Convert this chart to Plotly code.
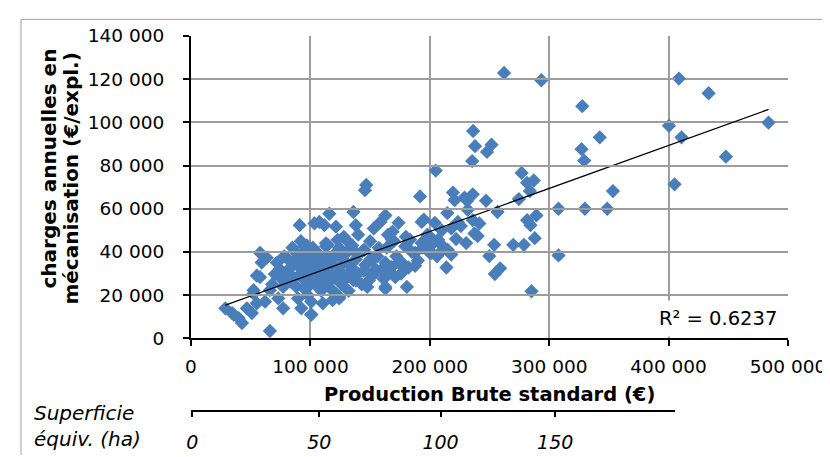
import plotly.graph_objects as go

# ---- data (k€) ----
pbs_k = [
    408.6, 433.5, 327.7, 400.3, 483.7, 342.3, 410.8, 327.1, 329.3, 448.0,
    405.0, 353.4, 307.8, 329.9, 348.6, 307.8,
    262.2, 293.4, 236.3, 237.9, 251.7, 247.9, 235.5, 205.0, 276.9, 281.5,
    287.1, 283.8, 219.4, 220.8, 229.1, 236.0, 231.3, 247.1, 274.6, 231.8,
    256.7, 214.7, 204.2, 289.3, 281.5, 284.3, 223.5, 236.0, 241.5, 237.4,
    218.0, 240.1, 200.0, 207.0, 230.5, 287.9, 253.9, 269.9, 278.8, 201.5,
    209.8, 200.0, 208.4, 218.0, 249.8, 213.9, 258.9, 254.5, 285.2,
    146.8, 145.7, 191.8, 115.8, 107.5, 111.7, 136.0, 138.0, 121.4, 162.8,
    158.7, 173.8, 153.1, 168.8, 193.2, 122.8, 131.1, 114.5, 143.5, 157.3,
    168.4, 179.4, 183.5, 193.2, 197.3, 187.7, 99.3, 104.8, 126.9, 138.0,
    150.4, 162.8, 173.8, 182.1, 102.1, 113.1, 124.1, 133.8, 144.8, 154.5,
    165.5, 171.1, 161.4, 149.0, 138.0, 128.3, 117.2, 107.5, 180.8, 162.8,
    147.6, 109.0, 121.4, 124.1, 110.4, 100.7,
    91.0, 103.4, 57.8, 63.4, 59.2, 95.1, 88.2, 81.4, 74.4, 70.3,
    80.0, 89.6, 97.9, 93.8, 84.1, 77.2, 57.8, 52.4, 66.1, 73.1,
    62.0, 55.1, 89.6, 97.9, 92.4, 77.2, 46.8, 28.8, 34.4, 39.9,
    42.7, 51.0, 66.1, 100.7, 99.3, 100.7,
    99.3, 113.1, 124.1, 138.0, 151.8, 162.8, 176.6, 187.7, 201.5, 196.0,
    35.8, 52.4, 55.1, 118.6, 124.1, 162.8,
    68, 72, 75, 78, 82, 85, 86, 88, 90, 92,
    94, 95, 96, 98, 100, 101, 102, 104, 105, 107,
    108, 110, 112, 114, 115, 117, 118, 120, 122, 124,
    126, 128, 130, 132, 134, 136, 85, 80, 76, 92,
    97, 103, 109, 113, 119, 125, 131, 140, 143, 146,
    152, 156, 160, 164, 168, 172, 176, 185, 190, 194,
    198, 202, 206, 210, 215, 222, 226, 195, 180, 170,
    165, 150, 145, 140, 135, 128,
]
charges_k = [
    120.3, 113.5, 107.5, 98.4, 99.9, 93.1, 93.1, 87.6, 82.3, 84.1,
    71.3, 68.2, 60.0, 60.0, 60.0, 38.4,
    122.9, 119.5, 96.0, 89.0, 89.7, 86.3, 82.1, 77.7, 76.6, 72.0,
    73.1, 68.2, 67.5, 64.0, 65.2, 66.7, 63.7, 63.7, 64.5, 59.5,
    58.5, 58.0, 53.5, 56.9, 54.7, 52.4, 53.9, 54.7, 53.2, 48.6,
    50.9, 47.4, 47.1, 45.6, 44.1, 46.4, 43.3, 43.3, 43.3, 43.3,
    43.3, 39.6, 39.6, 38.8, 38.1, 32.8, 32.4, 29.8, 21.8,
    71.0, 68.6, 65.7, 57.7, 53.9, 52.4, 58.5, 52.4, 51.7, 56.9,
    53.9, 53.5, 50.9, 49.4, 53.9, 45.6, 44.9, 43.3, 40.4, 41.9,
    45.6, 42.6, 45.6, 44.1, 45.6, 39.6, 41.1, 36.6, 38.1, 36.6,
    36.6, 35.1, 35.1, 32.8, 32.0, 31.3, 29.8, 30.5, 31.3, 32.0,
    31.3, 28.3, 27.5, 26.8, 26.8, 26.8, 27.5, 26.8, 23.8, 23.8,
    23.8, 23.8, 20.7, 18.5, 16.2, 11.0,
    52.4, 53.2, 39.6, 37.3, 35.1, 42.6, 39.6, 36.6, 32.0, 29.8,
    30.5, 33.6, 32.0, 27.5, 26.0, 23.8, 28.3, 22.3, 22.3, 18.5,
    17.0, 16.2, 18.5, 20.0, 13.9, 13.9, 13.9, 13.9, 11.7, 9.4,
    7.1, 11.7, 3.4, 11.0, 24.5, 17.0,
    38.1, 42.6, 41.9, 39.6, 36.6, 33.6, 35.1, 33.6, 39.6, 45.6,
    11.0, 20.7, 29.0, 17.7, 19.2, 23.0,
    25, 35, 28, 38, 32, 42, 28, 24, 36, 30,
    40, 23, 34, 27, 37, 30, 42, 25, 33, 39,
    29, 35, 26, 38, 31, 23, 34, 28, 40, 33,
    25, 36, 29, 22, 33, 27, 35, 27, 31, 45,
    43, 36, 22, 44, 37, 31, 40, 30, 25, 34,
    29, 38, 31, 42, 33, 38, 30, 40, 36, 42,
    48, 45, 38, 50, 41, 46, 52, 55, 47, 45,
    48, 45, 41, 48, 43, 47,
]
pbs = [v * 1000 for v in pbs_k]
charges = [v * 1000 for v in charges_k]

trend_slope = 0.1992
trend_intercept = 9640
r2_text = "R² = 0.6237"

x_ticks = [0, 100000, 200000, 300000, 400000, 500000]
y_ticks = [0, 20000, 40000, 60000, 80000, 100000, 120000, 140000]

ha_ticks = ["0", "50", "100", "150"]
ha_tick_pbs = [1000, 107500, 209000, 305000]
ha_axis_end_pbs = 405500

trend_x = [min(pbs), max(pbs)]
trend_y = [trend_slope * v + trend_intercept for v in trend_x]

FONT = "DejaVu Sans"
BLUE = "#4A7EBB"
GRID = "#9C9C9C"

fig = go.Figure()
fig.add_trace(go.Scatter(
    x=pbs, y=charges, mode="markers",
    marker=dict(symbol="diamond", size=11, color=BLUE, line=dict(width=0)),
    showlegend=False, hoverinfo="skip"))
fig.add_trace(go.Scatter(
    x=trend_x, y=trend_y, mode="lines",
    line=dict(color="black", width=1.3), showlegend=False, hoverinfo="skip"))
fig.add_trace(go.Scatter(
    x=[None], y=[None], xaxis="x2", yaxis="y", mode="markers",
    showlegend=False, hoverinfo="skip"))

# geometry (px)
W, H = 830, 457
L, R, T, B = 183.0, 787.0, 28.0, 417.0
plot_bottom = 337.5
pw, ph = R - L, B - T
def px_x(px):
    return (px - L) / pw
def px_y(py):
    return (B - py) / ph

TICK = 18.5
fig.update_layout(
    width=W, height=H,
    margin=dict(l=L, r=W - R, t=T, b=H - B, pad=0),
    paper_bgcolor="white", plot_bgcolor="rgba(0,0,0,0)",
    separators=". ",
    font=dict(family=FONT, size=TICK, color="black"),
    xaxis=dict(
        range=[0, 500000], tickvals=x_ticks, tickformat=",d",
        showline=True, linecolor="black", linewidth=2,
        ticks="outside", ticklen=6, tickcolor="black", tickwidth=1.5,
        showgrid=True, gridcolor=GRID, gridwidth=1.5, zeroline=False,
        anchor="y", tickfont=dict(size=TICK), ticklabelstandoff=4),
    yaxis=dict(
        range=[0, 140000], tickvals=y_ticks, tickformat=",d",
        domain=[px_y(plot_bottom), 1],
        showline=True, linecolor="black", linewidth=2,
        ticks="outside", ticklen=6, tickcolor="black", tickwidth=1.5,
        showgrid=True, gridcolor=GRID, gridwidth=1.5, zeroline=False,
        tickfont=dict(size=TICK), ticklabelstandoff=15),
    xaxis2=dict(
        domain=[0, ha_axis_end_pbs / 500000],
        range=[0, ha_axis_end_pbs],
        anchor="free", position=px_y(411.7),
        tickvals=ha_tick_pbs, ticktext=ha_ticks,
        showline=True, linecolor="black", linewidth=1.5,
        ticks="outside", ticklen=5, tickcolor="black", tickwidth=1.5,
        showgrid=False, zeroline=False,
        tickfont=dict(size=19, style="italic"), ticklabelstandoff=10),
    annotations=[
        dict(text="<b>Production Brute standard (€)</b>", xref="paper", yref="paper",
             x=0.5, y=px_y(395), xanchor="center", yanchor="middle",
             showarrow=False, font=dict(size=19.5)),
        dict(text="<b>charges annuelles en</b>",
             xref="paper", yref="paper", x=px_x(39), y=px_y(164),
             xanchor="center", yanchor="middle", textangle=-90,
             showarrow=False, font=dict(size=20)),
        dict(text="<b>mécanisation (€/expl.)</b>",
             xref="paper", yref="paper", x=px_x(62), y=px_y(173.5),
             xanchor="center", yanchor="middle", textangle=-90,
             showarrow=False, font=dict(size=20)),
        dict(text="<i>Superficie<br>équiv. (ha)</i>", xref="paper", yref="paper",
             x=px_x(22), y=px_y(427), xanchor="left", yanchor="middle",
             align="left", showarrow=False, font=dict(size=20)),
        dict(text=r2_text, xref="paper", yref="paper",
             x=px_x(716), y=px_y(317), xanchor="center", yanchor="middle",
             showarrow=False, font=dict(size=19.5), bgcolor="white", borderpad=6),
    ],
    shapes=[
        dict(type="line", xref="paper", yref="paper",
             x0=px_x(11), x1=px_x(830), y0=px_y(11), y1=px_y(11),
             line=dict(color="#A0A0A0", width=1)),
        dict(type="line", xref="paper", yref="paper",
             x0=px_x(11), x1=px_x(11), y0=px_y(11), y1=px_y(457),
             line=dict(color="#A0A0A0", width=1)),
    ],
)

fig.write_html("out.html")
